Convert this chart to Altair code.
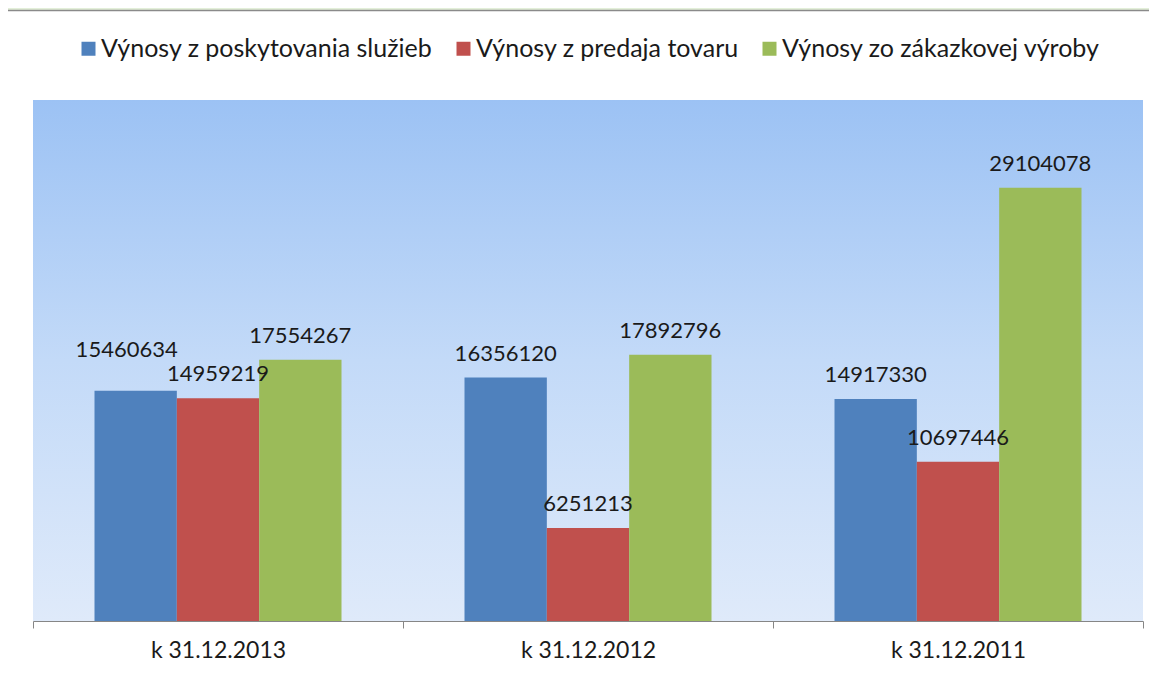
import altair as alt
import pandas as pd

categories = ["k 31.12.2013", "k 31.12.2012", "k 31.12.2011"]
series = ["Výnosy z poskytovania služieb", "Výnosy z predaja tovaru", "Výnosy zo zákazkovej výroby"]
sluzby = [15460634, 16356120, 14917330]
tovar = [14959219, 6251213, 10697446]
vyroba = [17554267, 17892796, 29104078]
colors = ["#4F81BD", "#C0504D", "#9BBB59"]

rows = []
for s, vals in zip(series, [sluzby, tovar, vyroba]):
    for c, v in zip(categories, vals):
        rows.append({"period": c, "series": s, "value": v,
                     "shifted": (c == categories[0] and s == series[0])})
df = pd.DataFrame(rows)

W, H = 1110, 521
FONT = "Lato"

x_enc = alt.X("period:N", sort=categories,
              scale=alt.Scale(paddingInner=0, paddingOuter=0),
              axis=alt.Axis(title=None, tickBand="extent", labelAngle=0))
xo_enc = alt.XOffset("series:N", sort=series,
                     scale=alt.Scale(paddingInner=0, paddingOuter=0.747))
y_enc = alt.Y("value:Q", scale=alt.Scale(domain=[0, 35000000], nice=False), axis=None)

bg = alt.Chart(alt.Data(values=[{}])).mark_rect(
    color=alt.LinearGradient(
        gradient="linear", x1=0, x2=0, y1=0, y2=1,
        stops=[alt.GradientStop(color="#9CC2F4", offset=0),
               alt.GradientStop(color="#C3DAF8", offset=0.5),
               alt.GradientStop(color="#DFEAFA", offset=1)])
).encode(x=alt.value(0), x2=alt.value(W), y=alt.value(0), y2=alt.value(H))

topband = alt.Chart(alt.Data(values=[{}])).mark_rect(color="#E3EFD9").encode(
    x=alt.value(-25), x2=alt.value(W + 6), y=alt.value(-92), y2=alt.value(-90))
topline = alt.Chart(alt.Data(values=[{}])).mark_rule(color="#8A8A8A", strokeWidth=1.5).encode(
    x=alt.value(-25), x2=alt.value(W + 6), y=alt.value(-89.5))

bars = alt.Chart(df).mark_bar().encode(
    x=x_enc, xOffset=xo_enc, y=y_enc,
    color=alt.Color("series:N", sort=series,
                    scale=alt.Scale(domain=series, range=colors),
                    legend=alt.Legend(title=None, orient="none", direction="horizontal",
                                      legendX=43, legendY=-64, symbolType="square",
                                      symbolSize=196, symbolStrokeWidth=0,
                                      labelFont=FONT, labelFontSize=25,
                                      labelColor="#1A1A1A", labelLimit=500,
                                      columnPadding=18, labelOffset=0, padding=0))
)

labels = alt.Chart(df).transform_filter("!datum.shifted").mark_text(
    font=FONT, fontSize=22, color="#1A1A1A", baseline="middle", dy=-24
).encode(x=x_enc, xOffset=xo_enc, y=y_enc, text=alt.Text("value:Q", format="d"))

labels2 = alt.Chart(df).transform_filter("datum.shifted").mark_text(
    font=FONT, fontSize=22, color="#1A1A1A", baseline="middle", dy=-41, dx=-9
).encode(x=x_enc, xOffset=xo_enc, y=y_enc, text=alt.Text("value:Q", format="d"))

chart = alt.layer(topband, topline, bg, bars, labels, labels2).properties(
    width=W, height=H,
    padding={"left": 25, "top": 92, "right": 6, "bottom": 40},
    autosize=alt.AutoSizeParams(type="none"),
    background="white",
).configure_view(stroke=None).configure_axis(
    domainColor="#868686", tickColor="#868686", tickSize=7,
    labelFont=FONT, labelFontSize=23, labelColor="#1A1A1A", labelPadding=11,
)

chart.save("out.html", embed_options={"renderer": "svg", "actions": False})
